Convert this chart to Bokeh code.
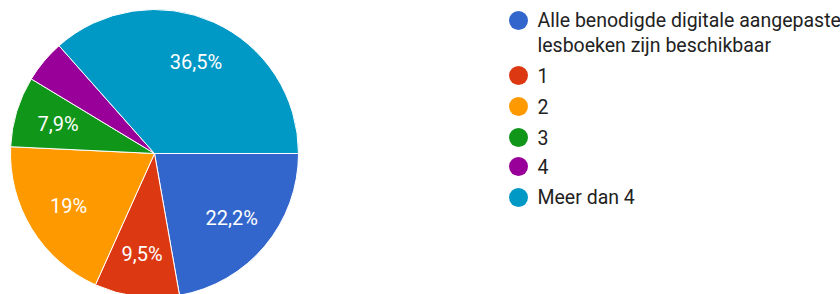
import math
from bokeh.plotting import figure
from bokeh.models import ColumnDataSource, Range1d
from bokeh.core.properties import value
from bokeh.embed import file_html
from bokeh.resources import INLINE

categories = ["Alle benodigde digitale aangepaste\nlesboeken zijn beschikbaar", "1", "2", "3", "4", "Meer dan 4"]
percents = [22.2, 9.5, 19.0, 7.9, 4.8, 36.5]
labels = ["22,2%", "9,5%", "19%", "7,9%", "", "36,5%"]
colors = ["#3366cc", "#dc3912", "#ff9900", "#109618", "#990099", "#0099c6"]

W, H = 840, 294
FONT = "Roboto"

p = figure(width=W, height=H, output_backend="svg", toolbar_location=None,
           x_range=Range1d(0, W), y_range=Range1d(0, H), min_border=0)
p.axis.visible = False
p.grid.visible = False
p.outline_line_color = None
p.background_fill_color = "white"

cx, cy, r = 154, H - 153, 144
total = sum(percents)
starts, ends, lx, ly = [], [], [], []
cum = 0.0
for v in percents:
    a0 = -cum / total * 2 * math.pi
    cum += v
    a1 = -cum / total * 2 * math.pi
    starts.append(a0)
    ends.append(a1)
    mid = (a0 + a1) / 2
    lx.append(cx + 0.7 * r * math.cos(mid))
    ly.append(cy + 0.7 * r * math.sin(mid))

src = ColumnDataSource(dict(start=starts, end=ends, color=colors, lx=lx, ly=ly, label=labels))
p.wedge(x=cx, y=cy, radius=r, start_angle="start", end_angle="end", direction="clock",
        fill_color="color", line_color="white", line_width=1, source=src)
p.text(x="lx", y="ly", text="label", source=src, text_color="white",
       text_font=value(FONT), text_font_size="20px", text_align="center", text_baseline="middle")

# legend
leg_y_page = [20, 75, 106, 137, 166, 197]
lgy = [H - v for v in leg_y_page]
leg = ColumnDataSource(dict(x=[518] * len(categories), y=lgy, color=colors))
p.scatter(x="x", y="y", size=19, marker="circle", fill_color="color", line_color=None, source=leg)

tx, ty, tt = [], [], []
for c, y in zip(categories, lgy):
    for j, line in enumerate(c.split("\n")):
        tx.append(537)
        ty.append(y - 25 * j)
        tt.append(line)
p.text(x=tx, y=ty, text=tt, text_color="#222222", text_font=value(FONT),
       text_font_size="19.5px", text_align="left", text_baseline="middle")

open("out.html", "w").write(file_html(p, INLINE))
